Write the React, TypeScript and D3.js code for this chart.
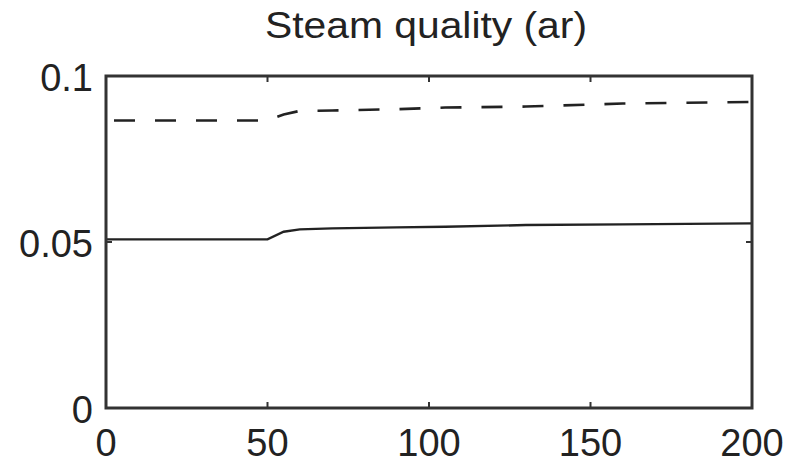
import React from "react";
import * as d3 from "d3";

const timePoints = [0, 50, 55, 60, 70, 90, 105, 130, 160, 200];
const solidSeries = [0.0508, 0.0508, 0.0531, 0.0538, 0.0541, 0.0544, 0.0546, 0.0551, 0.0553, 0.0556];
const dashedSeries = [0.0866, 0.0866, 0.0884, 0.0895, 0.0896, 0.09, 0.0905, 0.0908, 0.0917, 0.0922];
const xTicks = [0, 50, 100, 150, 200];
const yTicks = [0, 0.05, 0.1];
const yTickLabels = ["0", "0.05", "0.1"];
const title = "Steam quality (ar)";

const W = 794;
const H = 464;
const left = 106;
const right = 752;
const top = 76;
const bottom = 408;
const font = "'Liberation Sans', Arial, Helvetica, sans-serif";
const ink = "#333";

export default function App() {
  const x = d3.scaleLinear().domain([0, 200]).range([left, right]);
  const y = d3.scaleLinear().domain([0, 0.1]).range([bottom, top]);
  const line = d3
    .line<number>()
    .x((_, i) => x(timePoints[i]))
    .y((d) => y(d))
    .curve(d3.curveLinear);
  const tickLen = 6;
  return (
    <svg
      width={W}
      height={H}
      viewBox={`0 0 ${W} ${H}`}
      style={{ position: "absolute", left: 0, top: 0, display: "block", background: "#fff" }}
    >
      <text
        x={426}
        y={38}
        textAnchor="middle"
        fontFamily={font}
        fontSize={36}
        textLength={322}
        lengthAdjust="spacingAndGlyphs"
        fill="#222"
      >
        {title}
      </text>
      <path d={line(solidSeries) || ""} fill="none" stroke="#222" strokeWidth={2.4} />
      <path
        d={line(dashedSeries) || ""}
        fill="none"
        stroke="#222"
        strokeWidth={2.6}
        strokeDasharray="21 20"
        strokeDashoffset={-8}
      />
      {xTicks.slice(1, -1).map((t) => (
        <g key={"xt" + t}>
          <line x1={x(t)} x2={x(t)} y1={bottom} y2={bottom - tickLen} stroke={ink} strokeWidth={2} />
          <line x1={x(t)} x2={x(t)} y1={top} y2={top + tickLen} stroke={ink} strokeWidth={2} />
        </g>
      ))}
      {yTicks.slice(1, -1).map((v) => (
        <g key={"yt" + v}>
          <line x1={left} x2={left + tickLen} y1={y(v)} y2={y(v)} stroke={ink} strokeWidth={2} />
          <line x1={right} x2={right - tickLen} y1={y(v)} y2={y(v)} stroke={ink} strokeWidth={2} />
        </g>
      ))}
      <rect x={left} y={top} width={right - left} height={bottom - top} fill="none" stroke={ink} strokeWidth={3} />
      {xTicks.map((t) => (
        <text key={"xl" + t} x={x(t)} y={456} textAnchor="middle" fontFamily={font} fontSize={38} fill="#222">
          {t}
        </text>
      ))}
      {yTicks.map((v, i) => (
        <text
          key={"yl" + v}
          x={93}
          y={y(v)}
          dy="0.4em"
          textAnchor="end"
          fontFamily={font}
          fontSize={38}
          fill="#222"
        >
          {yTickLabels[i]}
        </text>
      ))}
    </svg>
  );
}
